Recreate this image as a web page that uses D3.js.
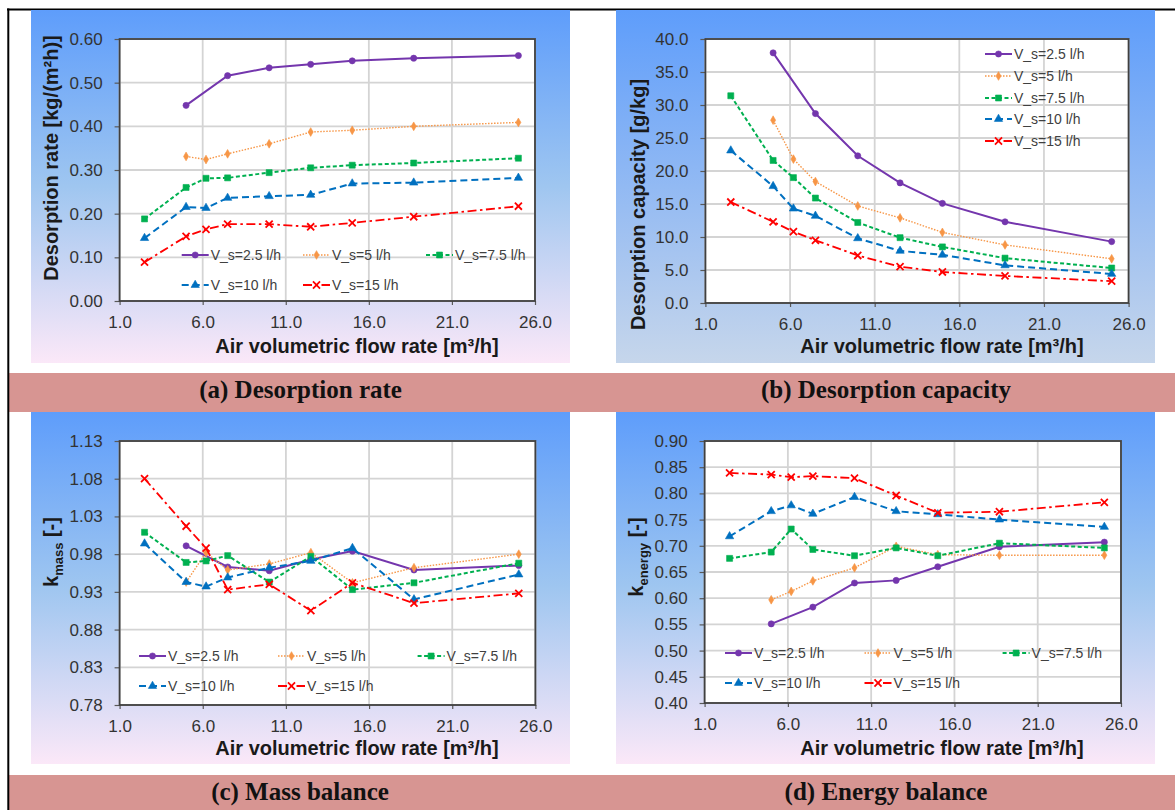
<!DOCTYPE html>
<html>
<head>
<meta charset="utf-8">
<script src="https://cdn.jsdelivr.net/npm/d3@7"></script>
<style>
  body { margin: 0; background: #fff; }
  svg { display: block; }
</style>
</head>
<body>
<div id="chart"></div>
<script>
// ---- DATA ----
const flowRates = [2.5, 5.0, 6.2, 7.5, 10.0, 12.5, 15.0, 18.7, 25.0]; // m3/h
const flowTicks = [1, 6, 11, 16, 21, 26];
const seriesNames = ["V_s=2.5 l/h", "V_s=5 l/h", "V_s=7.5 l/h", "V_s=10 l/h", "V_s=15 l/h"];

// (a) Desorption rate [kg/(m2h)]
const rateVs25 = [null, 0.448, null, 0.516, 0.534, 0.542, 0.550, 0.556, 0.562];
const rateVs5  = [null, 0.331, 0.324, 0.337, 0.360, 0.387, 0.391, 0.400, 0.409];
const rateVs75 = [0.188, 0.260, 0.281, 0.282, 0.294, 0.305, 0.311, 0.316, 0.327];
const rateVs10 = [0.144, 0.215, 0.213, 0.236, 0.240, 0.243, 0.269, 0.271, 0.282];
const rateVs15 = [0.089, 0.148, 0.164, 0.176, 0.176, 0.170, 0.179, 0.193, 0.217];
const rateTicks = [0, 0.1, 0.2, 0.3, 0.4, 0.5, 0.6];

// (b) Desorption capacity [g/kg]
const capVs25 = [null, 37.9, null, 28.7, 22.3, 18.2, 15.1, 12.3, 9.3];
const capVs5  = [null, 27.7, 21.8, 18.4, 14.7, 12.9, 10.7, 8.8, 6.7];
const capVs75 = [31.4, 21.6, 19.0, 15.9, 12.2, 9.9, 8.5, 6.8, 5.3];
const capVs10 = [23.1, 17.7, 14.3, 13.2, 9.8, 7.9, 7.3, 5.7, 4.4];
const capVs15 = [15.3, 12.3, 10.8, 9.5, 7.2, 5.5, 4.7, 4.1, 3.3];
const capTicks = [0, 5, 10, 15, 20, 25, 30, 35, 40];

// (c) Mass balance k_mass [-]
const massVs25 = [null, 0.991, null, 0.963, 0.958, 0.973, 0.984, 0.959, 0.965];
const massVs5  = [null, 0.943, 0.982, 0.959, 0.967, 0.982, 0.942, 0.962, 0.980];
const massVs75 = [1.009, 0.969, 0.971, 0.978, 0.943, 0.977, 0.933, 0.942, 0.968];
const massVs10 = [0.994, 0.943, 0.937, 0.949, 0.962, 0.971, 0.988, 0.920, 0.953];
const massVs15 = [1.080, 1.017, 0.988, 0.933, 0.940, 0.905, 0.942, 0.915, 0.928];
const massTicks = [0.78, 0.83, 0.88, 0.93, 0.98, 1.03, 1.08, 1.13];

// (d) Energy balance k_energy [-]
const energyVs25 = [null, 0.551, null, 0.583, 0.629, 0.634, 0.660, 0.698, 0.707];
const energyVs5  = [null, 0.597, 0.613, 0.633, 0.658, 0.699, 0.683, 0.682, 0.682];
const energyVs75 = [0.676, 0.688, 0.732, 0.693, 0.681, 0.696, 0.681, 0.705, 0.696];
const energyVs10 = [0.718, 0.766, 0.777, 0.761, 0.793, 0.766, 0.760, 0.750, 0.736];
const energyVs15 = [0.839, 0.836, 0.831, 0.833, 0.829, 0.796, 0.763, 0.765, 0.783];
const energyTicks = [0.40, 0.45, 0.50, 0.55, 0.60, 0.65, 0.70, 0.75, 0.80, 0.85, 0.90];

// ---- STYLES ----
const seriesStyles = [
  { color: "#7436ad", dash: null,            width: 2,   symbol: d3.symbolCircle,   size: 30 },
  { color: "#f79646", dash: "1.5,1.5",       width: 1.4, symbol: d3.symbolDiamond,  size: 22 },
  { color: "#00b050", dash: "4,2.5",         width: 2,   symbol: d3.symbolSquare,   size: 36 },
  { color: "#0070c0", dash: "7,4",           width: 2,   symbol: d3.symbolTriangle, size: 30 },
  { color: "#ff0000", dash: "9,3.5,2.5,3.5", width: 1.8, symbol: d3.symbolTimes,    size: 34, stroke: true }
];
const FONT = "Arial, 'Liberation Sans', sans-serif";

const W = 1175, H = 810;
const svg = d3.select("#chart").append("svg").attr("width", W).attr("height", H);
const defs = svg.append("defs");

// gradients behind each chart (Excel chart-area fill)
const gPink = defs.append("linearGradient").attr("id", "gradPink").attr("x1", 0).attr("x2", 0).attr("y1", 0).attr("y2", 1);
gPink.append("stop").attr("offset", "0%").attr("stop-color", "#5e9dfb");
gPink.append("stop").attr("offset", "50%").attr("stop-color", "#9fc6f0");
gPink.append("stop").attr("offset", "100%").attr("stop-color", "#fbe8f8");
const gBlue = defs.append("linearGradient").attr("id", "gradBlue").attr("x1", 0).attr("x2", 0).attr("y1", 0).attr("y2", 1);
gBlue.append("stop").attr("offset", "0%").attr("stop-color", "#5e9dfb");
gBlue.append("stop").attr("offset", "100%").attr("stop-color", "#c6d6eb");

// caption bands
svg.append("rect").attr("x", 9).attr("y", 373).attr("width", W - 9).attr("height", 39).attr("fill", "#d79592");
svg.append("rect").attr("x", 9).attr("y", 775).attr("width", W - 9).attr("height", 35).attr("fill", "#d79592");

// frame lines (top + left)
svg.append("line").attr("x1", 7).attr("x2", W).attr("y1", 9.5).attr("y2", 9.5).attr("stroke", "#000").attr("stroke-width", 2);
svg.append("line").attr("x1", 8.3).attr("x2", 8.3).attr("y1", 8.5).attr("y2", H).attr("stroke", "#000").attr("stroke-width", 2);

function symbolPath(st) {
  return d3.symbol().type(st.symbol).size(st.size)();
}

function styleLine(sel, st) {
  sel.attr("fill", "none")
    .attr("stroke", st.color)
    .attr("stroke-width", st.width)
    .attr("stroke-dasharray", st.dash);
}

function styleMarker(sel, st) {
  if (st.stroke) {
    sel.attr("fill", "none").attr("stroke", st.color).attr("stroke-width", 1.8);
  } else {
    sel.attr("fill", st.color).attr("stroke", st.color).attr("stroke-width", 0.6);
  }
}

function drawPanel(cfg) {
  const g = svg.append("g");
  const p = cfg.plot;

  g.append("rect")
    .attr("x", cfg.box[0]).attr("y", cfg.box[1])
    .attr("width", cfg.box[2] - cfg.box[0]).attr("height", cfg.box[3] - cfg.box[1])
    .attr("fill", `url(#${cfg.grad})`);

  const x = d3.scaleLinear().domain([1, 26]).range([p.left, p.right]);
  const y = d3.scaleLinear().domain(d3.extent(cfg.yTicks)).range([p.bottom, p.top]);

  // plot area
  g.append("rect").attr("x", p.left).attr("y", p.top)
    .attr("width", p.right - p.left).attr("height", p.bottom - p.top).attr("fill", "#fff");

  // gridlines
  g.append("g").selectAll("line").data(cfg.yTicks).join("line")
    .attr("x1", p.left).attr("x2", p.right)
    .attr("y1", d => y(d)).attr("y2", d => y(d))
    .attr("stroke", "#d4d4d4").attr("stroke-width", 1.8);
  g.append("g").selectAll("line").data(flowTicks).join("line")
    .attr("x1", d => x(d)).attr("x2", d => x(d))
    .attr("y1", p.top).attr("y2", p.bottom)
    .attr("stroke", "#d4d4d4").attr("stroke-width", 1.8);

  // axes
  const yAxis = g.append("g").attr("transform", `translate(${p.left},0)`)
    .call(d3.axisLeft(y).tickValues(cfg.yTicks).tickFormat(d3.format(cfg.yFormat)).tickSize(5).tickPadding(12));
  const xAxis = g.append("g").attr("transform", `translate(0,${p.bottom})`)
    .call(d3.axisBottom(x).tickValues(flowTicks).tickFormat(d3.format(".1f")).tickSize(4).tickPadding(11));
  [yAxis, xAxis].forEach(a => {
    a.select(".domain").remove();
    a.selectAll(".tick line").attr("stroke", "#595959").attr("stroke-width", 1.2);
    a.selectAll(".tick text").attr("fill", "#333").style("font-family", FONT).style("font-size", "17px");
  });

  // plot border
  g.append("rect").attr("x", p.left).attr("y", p.top)
    .attr("width", p.right - p.left).attr("height", p.bottom - p.top)
    .attr("fill", "none").attr("stroke", "#404040").attr("stroke-width", 1.8);

  // series
  cfg.series.forEach((vals, i) => {
    const st = seriesStyles[i];
    const pts = flowRates.map((f, k) => ({ f, v: vals[k] })).filter(d => d.v != null);
    g.append("path").datum(pts)
      .attr("d", d3.line().x(d => x(d.f)).y(d => y(d.v)))
      .call(styleLine, st);
    g.append("g").selectAll("path").data(pts).join("path")
      .attr("d", symbolPath(st))
      .attr("transform", d => `translate(${x(d.f)},${y(d.v)})`)
      .call(styleMarker, st);
  });

  // legend
  const lg = g.append("g");
  cfg.legend.forEach((pos, i) => {
    const st = seriesStyles[i];
    lg.append("line").attr("x1", pos[0]).attr("x2", pos[0] + 27).attr("y1", pos[1]).attr("y2", pos[1]).call(styleLine, st);
    lg.append("path").attr("d", symbolPath(st)).attr("transform", `translate(${pos[0] + 13.5},${pos[1]})`).call(styleMarker, st);
    lg.append("text").attr("x", pos[0] + 29).attr("y", pos[1]).attr("dy", "0.36em")
      .style("font-family", FONT).style("font-size", "14px").attr("fill", "#404040")
      .text(seriesNames[i]);
  });

  // axis titles
  g.append("text").attr("x", cfg.xTitle[0]).attr("y", cfg.xTitle[1])
    .attr("text-anchor", "middle").style("font-family", FONT).style("font-size", "20px").style("font-weight", "bold")
    .attr("fill", "#1a1a1a").text("Air volumetric flow rate [m³/h]");

  const yt = g.append("text")
    .attr("transform", `translate(${cfg.yTitlePos[0]},${cfg.yTitlePos[1]}) rotate(-90)`)
    .attr("text-anchor", "middle").attr("dy", "0.35em")
    .style("font-family", FONT).style("font-size", "20px").style("font-weight", "bold").attr("fill", "#1a1a1a");
  if (cfg.ySub) {
    yt.append("tspan").text("k");
    yt.append("tspan").attr("dy", 5).style("font-size", "13px").text(cfg.ySub);
    yt.append("tspan").attr("dy", -5).text(" [-]");
  } else {
    yt.text(cfg.yTitle);
  }

  // caption
  svg.append("text").attr("x", cfg.caption[0]).attr("y", cfg.caption[1]).attr("dy", "0.35em")
    .attr("text-anchor", "middle")
    .style("font-family", "'Times New Roman', 'Liberation Serif', serif").style("font-size", "25px").style("font-weight", "bold")
    .attr("fill", "#111").text(cfg.captionText);
}

drawPanel({
  box: [31, 10, 570, 363], grad: "gradPink",
  plot: { left: 119.6, right: 535, top: 39, bottom: 301 },
  yTicks: rateTicks, yFormat: ".2f",
  series: [rateVs25, rateVs5, rateVs75, rateVs10, rateVs15],
  legend: [[181.7, 255], [303, 255], [426, 255], [181.7, 285], [303, 285]],
  xTitle: [357, 353], yTitle: "Desorption rate [kg/(m²h)]", yTitlePos: [51, 158],
  caption: [300.6, 389], captionText: "(a) Desorption rate"
});

drawPanel({
  box: [616, 10, 1155, 363], grad: "gradBlue",
  plot: { left: 705.4, right: 1128.6, top: 39, bottom: 303 },
  yTicks: capTicks, yFormat: ".1f",
  series: [capVs25, capVs5, capVs75, capVs10, capVs15],
  legend: [[985, 54], [985, 76], [985, 98], [985, 119], [985, 141]],
  xTitle: [942, 353], yTitle: "Desorption capacity [g/kg]", yTitlePos: [638, 204.5],
  caption: [886, 389], captionText: "(b) Desorption capacity"
});

drawPanel({
  box: [31, 412, 570, 764], grad: "gradPink",
  plot: { left: 119.6, right: 535.4, top: 441, bottom: 705 },
  yTicks: massTicks, yFormat: ".2f",
  series: [massVs25, massVs5, massVs75, massVs10, massVs15],
  legend: [[139, 656], [278, 656], [417.6, 656], [139, 686], [278, 686]],
  xTitle: [357, 755], ySub: "mass", yTitlePos: [51, 552],
  caption: [300, 791], captionText: "(c) Mass balance"
});

drawPanel({
  box: [616, 412, 1155, 764], grad: "gradPink",
  plot: { left: 704.6, right: 1121, top: 441, bottom: 703 },
  yTicks: energyTicks, yFormat: ".2f",
  series: [energyVs25, energyVs5, energyVs75, energyVs10, energyVs15],
  legend: [[725, 653], [864.5, 653], [1002.6, 653], [725, 683], [864.5, 683]],
  xTitle: [942, 755], ySub: "energy", yTitlePos: [636, 557],
  caption: [886, 791], captionText: "(d) Energy balance"
});
</script>
</body>
</html>
